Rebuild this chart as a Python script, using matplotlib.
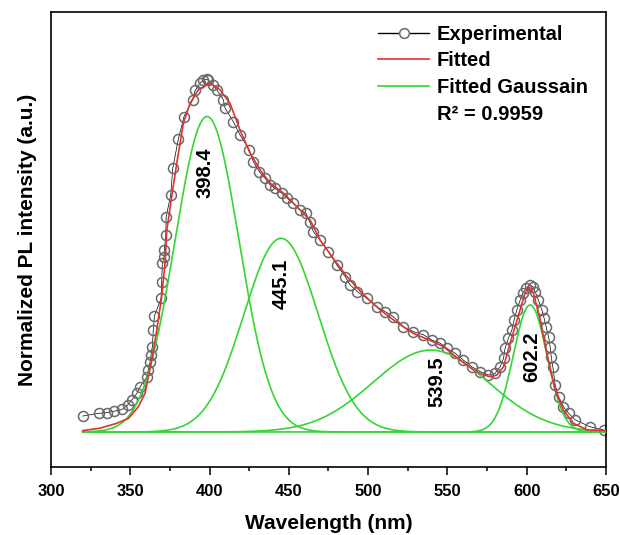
import numpy as np
import matplotlib.pyplot as plt
from matplotlib.lines import Line2D

plt.rcParams["font.family"] = ["Liberation Sans", "DejaVu Sans"]
plt.rcParams["font.weight"] = "bold"

# ---------------------------------------------------------------------------
# data (normalized intensity, baseline = 0)
# ---------------------------------------------------------------------------
exp_wl = [320.0, 330.5, 335.1, 340.0, 344.8, 348.4, 350.9, 354.1, 356.2, 360.4,
          361.4, 362.5, 363.1, 363.9, 364.5, 365.2, 369.4, 369.8, 370.2, 371.3,
          371.5, 372.4, 372.6, 375.5, 376.8, 380.3, 383.9, 389.4, 390.9, 394.0,
          396.1, 398.2, 399.2, 402.4, 404.5, 408.7, 409.8, 415.0, 419.2, 425.1,
          427.6, 431.4, 435.0, 438.2, 441.3, 445.6, 449.1, 452.9, 457.1, 460.9,
          463.2, 465.5, 469.7, 475.0, 480.3, 485.5, 488.6, 493.3, 499.2, 505.5,
          510.7, 516.0, 522.3, 528.6, 534.9, 540.2, 545.4, 549.7, 554.9, 560.1,
          565.4, 570.7, 575.9, 580.1, 583.3, 585.4, 586.4, 588.5, 590.7, 592.1,
          593.8, 595.9, 597.6, 599.7, 601.8, 603.9, 605.4, 607.4, 609.6, 611.0,
          612.3, 613.8, 614.8, 615.5, 616.5, 618.0, 620.1, 623.2, 626.4, 630.6,
          640.1, 648.5]
exp_int = [0.046, 0.054, 0.056, 0.060, 0.065, 0.078, 0.092, 0.111, 0.130, 0.159,
           0.179, 0.202, 0.222, 0.246, 0.294, 0.334, 0.385, 0.433, 0.486, 0.505,
           0.524, 0.568, 0.620, 0.683, 0.760, 0.844, 0.909, 0.957, 0.984, 1.005,
           1.014, 1.016, 1.014, 1.000, 0.986, 0.957, 0.933, 0.894, 0.856, 0.813,
           0.779, 0.750, 0.731, 0.712, 0.702, 0.688, 0.673, 0.659, 0.640, 0.630,
           0.605, 0.577, 0.553, 0.520, 0.481, 0.448, 0.424, 0.404, 0.385, 0.361,
           0.347, 0.332, 0.303, 0.289, 0.280, 0.265, 0.256, 0.241, 0.227, 0.207,
           0.188, 0.174, 0.164, 0.169, 0.188, 0.212, 0.241, 0.270, 0.294, 0.323,
           0.352, 0.380, 0.400, 0.414, 0.424, 0.419, 0.404, 0.380, 0.352, 0.328,
           0.303, 0.275, 0.246, 0.217, 0.188, 0.135, 0.102, 0.073, 0.054, 0.035,
           0.015, 0.006]

fit_wl = [320.0, 330.9, 341.4, 348.8, 355.1, 359.3, 361.4, 363.5, 366.7, 369.8,
          371.9, 373.0, 376.1, 379.3, 383.5, 387.7, 392.9, 398.2, 400.3, 406.6,
          412.9, 419.2, 425.6, 431.9, 438.2, 446.6, 455.0, 463.4, 469.7, 478.0,
          486.6, 497.0, 507.6, 518.0, 528.6, 538.0, 547.5, 558.0, 566.4, 572.0,
          577.0, 581.2, 585.4, 589.6, 592.8, 595.9, 598.6, 601.1, 604.3, 608.5,
          612.7, 618.0, 623.2, 629.6, 638.0, 650.0]
fit_int = [0.004, 0.011, 0.025, 0.039, 0.073, 0.111, 0.160, 0.207, 0.294, 0.390,
           0.486, 0.580, 0.678, 0.774, 0.890, 0.947, 0.986, 1.000, 1.005, 0.986,
           0.947, 0.870, 0.803, 0.755, 0.717, 0.688, 0.649, 0.611, 0.553, 0.500,
           0.448, 0.396, 0.352, 0.316, 0.284, 0.266, 0.246, 0.207, 0.179, 0.166,
           0.159, 0.164, 0.188, 0.256, 0.306, 0.352, 0.395, 0.419, 0.400, 0.323,
           0.227, 0.121, 0.063, 0.025, 0.006, 0.004]

# fitted Gaussian components: centre (nm), amplitude, sigma (nm)
peak_centres = [398.4, 445.1, 539.5, 602.2]
peak_amps = [0.909, 0.558, 0.236, 0.366]
peak_sigmas = [20.2, 23.5, 36.4, 10.6]
peak_labels = ["398.4", "445.1", "539.5", "602.2"]
label_pos = [(397.2, 0.747), (445.5, 0.426), (543.3, 0.145), (603.3, 0.217)]

fig = plt.figure(figsize=(6.2, 5.35), dpi=100)
ax = fig.add_axes([0.0823, 0.127, 0.895, 0.8505])

ax.plot(exp_wl, exp_int, color="black", lw=0.5, marker="o", ms=7.2,
        mfc="none", mec="#6a6a6a", mew=1.1, zorder=2)

wl = np.linspace(320, 650, 661)
for c, a, s in zip(peak_centres, peak_amps, peak_sigmas):
    ax.plot(wl, a * np.exp(-(wl - c) ** 2 / (2 * s ** 2)), color="#33d633", lw=1.2, zorder=3)

ax.plot(fit_wl, fit_int, color="#e03232", lw=1.2, zorder=4)

for txt, (x, y) in zip(peak_labels, label_pos):
    ax.text(x, y, txt, rotation=90, ha="center", va="center", fontsize=14.5, fontweight="bold")

ax.set_xlim(300, 650)
ax.set_ylim(-0.101, 1.21)
ax.set_xticks(np.arange(300, 651, 50))
ax.set_xticks(np.arange(325, 650, 50), minor=True)
ax.set_yticks([])
ax.tick_params(axis="x", which="major", length=6, width=1.1, labelsize=12, pad=6)
ax.tick_params(axis="x", which="minor", length=3, width=1.1)
for sp in ax.spines.values():
    sp.set_linewidth(1.2)
ax.set_xlabel("Wavelength (nm)", fontsize=15, fontweight="bold", labelpad=11)
ax.set_ylabel("Normalized PL intensity (a.u.)", fontsize=15, fontweight="bold", labelpad=10)

handles = [
    Line2D([], [], color="black", lw=1.0, marker="o", ms=7, mfc="white", mec="#6a6a6a", mew=1.1),
    Line2D([], [], color="#e03232", lw=1.2),
    Line2D([], [], color="#33d633", lw=1.2),
    Line2D([], [], linestyle="none"),
]
labels = ["Experimental", "Fitted", "Fitted Gaussain", "R² = 0.9959"]
ax.legend(handles, labels, loc="upper left", bbox_to_anchor=(0.572, 0.994), frameon=False,
          handlelength=2.5, handletextpad=0.4, labelspacing=0.38,
          borderpad=0, numpoints=1, prop={"weight": "bold", "size": 14.5})

fig.savefig("out.png", dpi=100)
